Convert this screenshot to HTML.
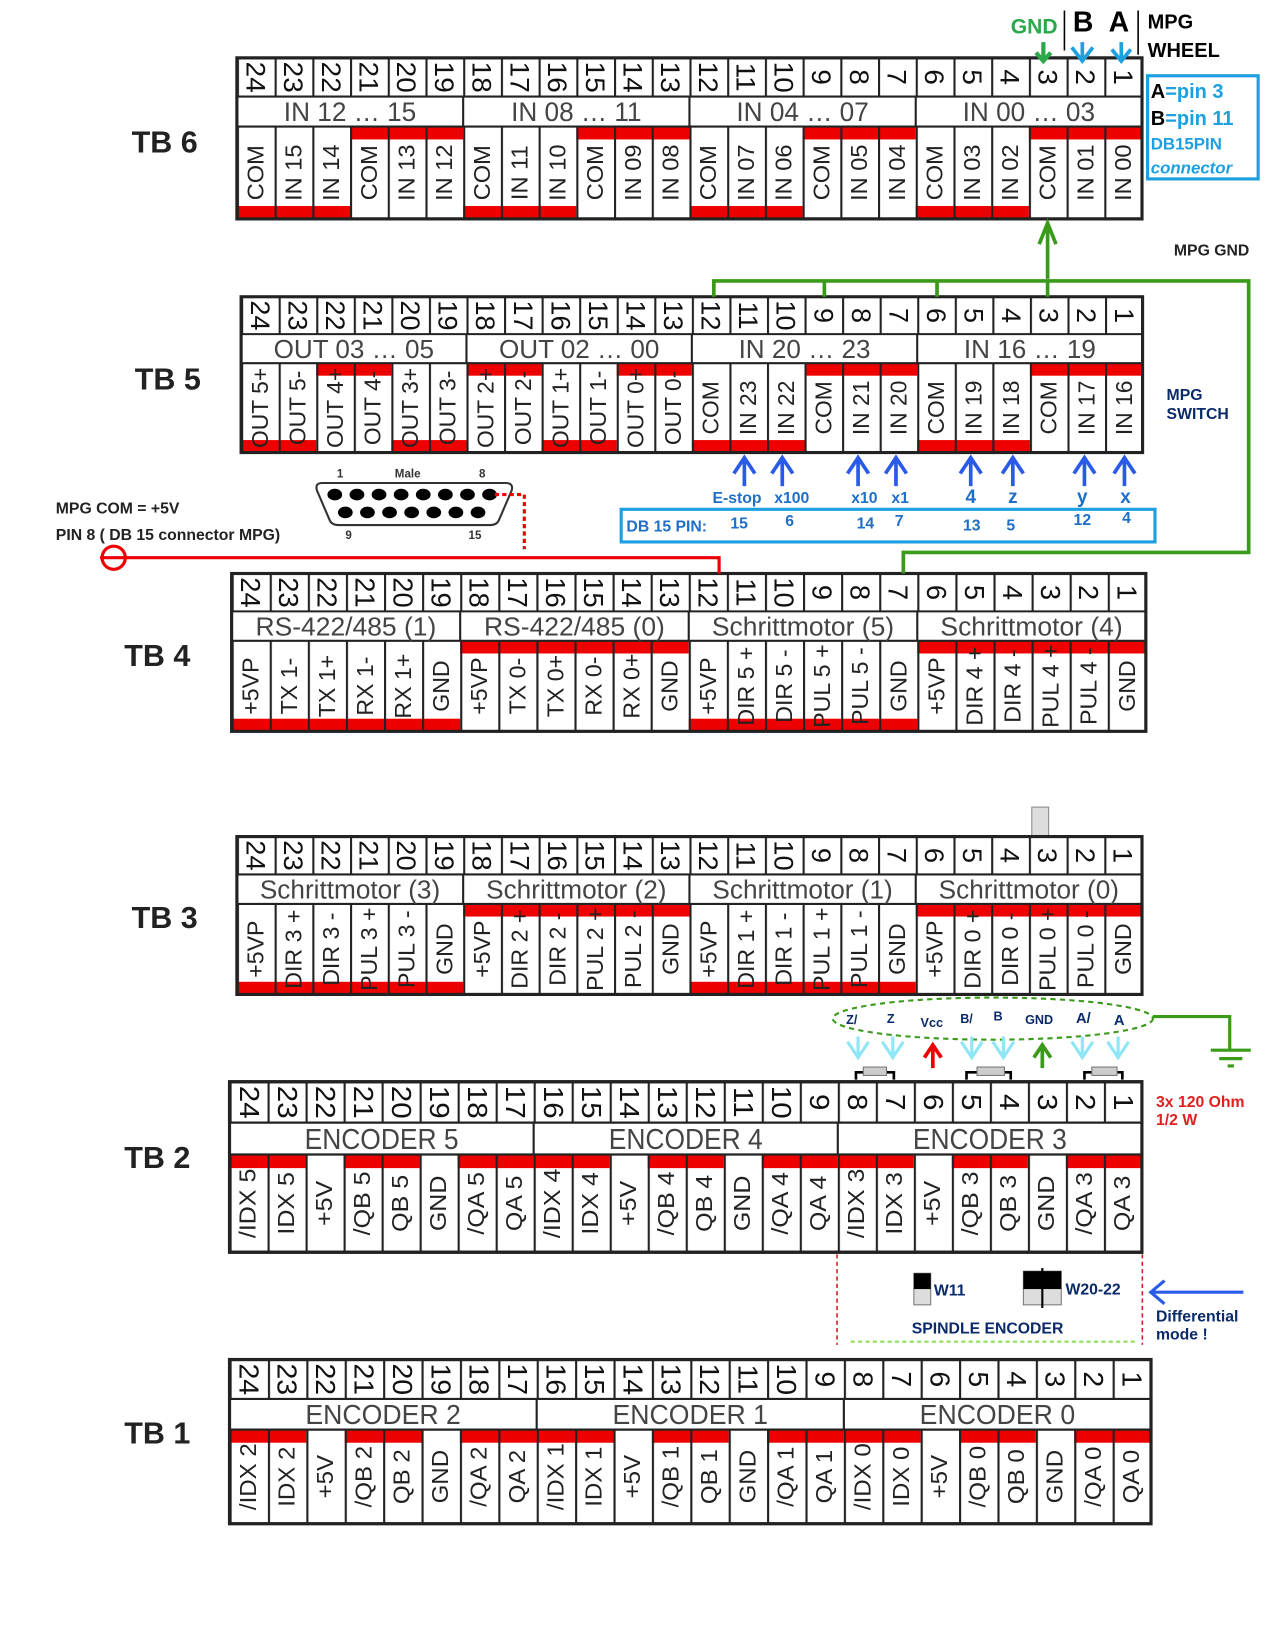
<!DOCTYPE html>
<html><head><meta charset="utf-8"><style>
html,body{margin:0;padding:0;background:#fff}
svg{display:block}
.n{font:26px "Liberation Sans",sans-serif;text-anchor:middle;dominant-baseline:central;fill:#111}
.l{font:22px "Liberation Sans",sans-serif;text-anchor:middle;dominant-baseline:central;fill:#222}
.h{font:25px "Liberation Sans",sans-serif;text-anchor:middle;fill:#444}
.tb{font:bold 29px "Liberation Sans",sans-serif;fill:#222}
.b{font-family:"Liberation Sans",sans-serif;font-weight:bold}
</style></head><body>
<svg width="1275" height="1650" viewBox="0 0 1211 1568" preserveAspectRatio="none" xmlns="http://www.w3.org/2000/svg">
<defs><pattern id="pc" width="36" height="10" patternUnits="userSpaceOnUse"><rect width="2" height="10" fill="#222"/></pattern></defs>
<rect width="1211" height="1568" fill="#fff"/>

<!-- TB6 -->
<text class="tb" x="125" y="145">TB 6</text>
<g transform="translate(225,55) scale(0.995,1.02)">
<rect width="864" height="150" fill="#fff"/>
<g fill="#e00"><rect x="0" y="138" width="108" height="12"/><rect x="216" y="138" width="108" height="12"/><rect x="432" y="138" width="108" height="12"/><rect x="648" y="138" width="108" height="12"/><rect x="108" y="64" width="108" height="12"/><rect x="324" y="64" width="108" height="12"/><rect x="540" y="64" width="108" height="12"/><rect x="756" y="64" width="108" height="12"/></g>
<rect width="864" height="36" fill="url(#pc)"/><rect y="64" width="864" height="86" fill="url(#pc)"/>
<path d="M0 36H864M0 64H864M216 36V64M432 36V64M648 36V64" stroke="#222" stroke-width="2"/>
<rect width="864" height="150" fill="none" stroke="#222" stroke-width="3"/>
<g class="n"><text transform="translate(18,18)rotate(90)">24</text><text transform="translate(54,18)rotate(90)">23</text><text transform="translate(90,18)rotate(90)">22</text><text transform="translate(126,18)rotate(90)">21</text><text transform="translate(162,18)rotate(90)">20</text><text transform="translate(198,18)rotate(90)">19</text><text transform="translate(234,18)rotate(90)">18</text><text transform="translate(270,18)rotate(90)">17</text><text transform="translate(306,18)rotate(90)">16</text><text transform="translate(342,18)rotate(90)">15</text><text transform="translate(378,18)rotate(90)">14</text><text transform="translate(414,18)rotate(90)">13</text><text transform="translate(450,18)rotate(90)">12</text><text transform="translate(486,18)rotate(90)">11</text><text transform="translate(522,18)rotate(90)">10</text><text transform="translate(558,18)rotate(90)">9</text><text transform="translate(594,18)rotate(90)">8</text><text transform="translate(630,18)rotate(90)">7</text><text transform="translate(666,18)rotate(90)">6</text><text transform="translate(702,18)rotate(90)">5</text><text transform="translate(738,18)rotate(90)">4</text><text transform="translate(774,18)rotate(90)">3</text><text transform="translate(810,18)rotate(90)">2</text><text transform="translate(846,18)rotate(90)">1</text></g>
<g class="h"><text x="108" y="59">IN   12 … 15</text><text x="324" y="59">IN   08 … 11</text><text x="540" y="59">IN   04 … 07</text><text x="756" y="59">IN   00 … 03</text></g>
<g class="l"><text transform="translate(18,107)rotate(-90)">COM</text><text transform="translate(54,107)rotate(-90)">IN 15</text><text transform="translate(90,107)rotate(-90)">IN 14</text><text transform="translate(126,107)rotate(-90)">COM</text><text transform="translate(162,107)rotate(-90)">IN 13</text><text transform="translate(198,107)rotate(-90)">IN 12</text><text transform="translate(234,107)rotate(-90)">COM</text><text transform="translate(270,107)rotate(-90)">IN 11</text><text transform="translate(306,107)rotate(-90)">IN 10</text><text transform="translate(342,107)rotate(-90)">COM</text><text transform="translate(378,107)rotate(-90)">IN 09</text><text transform="translate(414,107)rotate(-90)">IN 08</text><text transform="translate(450,107)rotate(-90)">COM</text><text transform="translate(486,107)rotate(-90)">IN 07</text><text transform="translate(522,107)rotate(-90)">IN 06</text><text transform="translate(558,107)rotate(-90)">COM</text><text transform="translate(594,107)rotate(-90)">IN 05</text><text transform="translate(630,107)rotate(-90)">IN 04</text><text transform="translate(666,107)rotate(-90)">COM</text><text transform="translate(702,107)rotate(-90)">IN 03</text><text transform="translate(738,107)rotate(-90)">IN 02</text><text transform="translate(774,107)rotate(-90)">COM</text><text transform="translate(810,107)rotate(-90)">IN 01</text><text transform="translate(846,107)rotate(-90)">IN 00</text></g>
</g>

<!-- TB5 -->
<text class="tb" x="128" y="370">TB 5</text>
<g transform="translate(229,282) scale(0.991,0.987)">
<rect width="864" height="150" fill="#fff"/>
<g fill="#e00"><rect x="0" y="138" width="72" height="12"/><rect x="144" y="138" width="72" height="12"/><rect x="288" y="138" width="72" height="12"/><rect x="432" y="138" width="108" height="12"/><rect x="648" y="138" width="108" height="12"/><rect x="72" y="64" width="72" height="12"/><rect x="216" y="64" width="72" height="12"/><rect x="360" y="64" width="72" height="12"/><rect x="540" y="64" width="108" height="12"/><rect x="756" y="64" width="108" height="12"/></g>
<rect width="864" height="36" fill="url(#pc)"/><rect y="64" width="864" height="86" fill="url(#pc)"/>
<path d="M0 36H864M0 64H864M216 36V64M432 36V64M648 36V64" stroke="#222" stroke-width="2"/>
<rect width="864" height="150" fill="none" stroke="#222" stroke-width="3"/>
<g class="n"><text transform="translate(18,18)rotate(90)">24</text><text transform="translate(54,18)rotate(90)">23</text><text transform="translate(90,18)rotate(90)">22</text><text transform="translate(126,18)rotate(90)">21</text><text transform="translate(162,18)rotate(90)">20</text><text transform="translate(198,18)rotate(90)">19</text><text transform="translate(234,18)rotate(90)">18</text><text transform="translate(270,18)rotate(90)">17</text><text transform="translate(306,18)rotate(90)">16</text><text transform="translate(342,18)rotate(90)">15</text><text transform="translate(378,18)rotate(90)">14</text><text transform="translate(414,18)rotate(90)">13</text><text transform="translate(450,18)rotate(90)">12</text><text transform="translate(486,18)rotate(90)">11</text><text transform="translate(522,18)rotate(90)">10</text><text transform="translate(558,18)rotate(90)">9</text><text transform="translate(594,18)rotate(90)">8</text><text transform="translate(630,18)rotate(90)">7</text><text transform="translate(666,18)rotate(90)">6</text><text transform="translate(702,18)rotate(90)">5</text><text transform="translate(738,18)rotate(90)">4</text><text transform="translate(774,18)rotate(90)">3</text><text transform="translate(810,18)rotate(90)">2</text><text transform="translate(846,18)rotate(90)">1</text></g>
<g class="h"><text x="108" y="59">OUT  03 … 05</text><text x="324" y="59">OUT  02 … 00</text><text x="540" y="59">IN   20 … 23</text><text x="756" y="59">IN   16 … 19</text></g>
<g class="l"><text transform="translate(18,107)rotate(-90)">OUT 5+</text><text transform="translate(54,107)rotate(-90)">OUT 5-</text><text transform="translate(90,107)rotate(-90)">OUT 4+</text><text transform="translate(126,107)rotate(-90)">OUT 4-</text><text transform="translate(162,107)rotate(-90)">OUT 3+</text><text transform="translate(198,107)rotate(-90)">OUT 3-</text><text transform="translate(234,107)rotate(-90)">OUT 2+</text><text transform="translate(270,107)rotate(-90)">OUT 2-</text><text transform="translate(306,107)rotate(-90)">OUT 1+</text><text transform="translate(342,107)rotate(-90)">OUT 1-</text><text transform="translate(378,107)rotate(-90)">OUT 0+</text><text transform="translate(414,107)rotate(-90)">OUT 0-</text><text transform="translate(450,107)rotate(-90)">COM</text><text transform="translate(486,107)rotate(-90)">IN 23</text><text transform="translate(522,107)rotate(-90)">IN 22</text><text transform="translate(558,107)rotate(-90)">COM</text><text transform="translate(594,107)rotate(-90)">IN 21</text><text transform="translate(630,107)rotate(-90)">IN 20</text><text transform="translate(666,107)rotate(-90)">COM</text><text transform="translate(702,107)rotate(-90)">IN 19</text><text transform="translate(738,107)rotate(-90)">IN 18</text><text transform="translate(774,107)rotate(-90)">COM</text><text transform="translate(810,107)rotate(-90)">IN 17</text><text transform="translate(846,107)rotate(-90)">IN 16</text></g>
</g>

<!-- TB4 -->
<text class="tb" x="118" y="633">TB 4</text>
<g transform="translate(220,545) scale(1.005,1)">
<rect width="864" height="150" fill="#fff"/>
<g fill="#e00"><rect x="0" y="138" width="216" height="12"/><rect x="216" y="64" width="216" height="12"/><rect x="432" y="138" width="216" height="12"/><rect x="648" y="64" width="216" height="12"/></g>
<rect width="864" height="36" fill="url(#pc)"/><rect y="64" width="864" height="86" fill="url(#pc)"/>
<path d="M0 36H864M0 64H864M216 36V64M432 36V64M648 36V64" stroke="#222" stroke-width="2"/>
<rect width="864" height="150" fill="none" stroke="#222" stroke-width="3"/>
<g class="n"><text transform="translate(18,18)rotate(90)">24</text><text transform="translate(54,18)rotate(90)">23</text><text transform="translate(90,18)rotate(90)">22</text><text transform="translate(126,18)rotate(90)">21</text><text transform="translate(162,18)rotate(90)">20</text><text transform="translate(198,18)rotate(90)">19</text><text transform="translate(234,18)rotate(90)">18</text><text transform="translate(270,18)rotate(90)">17</text><text transform="translate(306,18)rotate(90)">16</text><text transform="translate(342,18)rotate(90)">15</text><text transform="translate(378,18)rotate(90)">14</text><text transform="translate(414,18)rotate(90)">13</text><text transform="translate(450,18)rotate(90)">12</text><text transform="translate(486,18)rotate(90)">11</text><text transform="translate(522,18)rotate(90)">10</text><text transform="translate(558,18)rotate(90)">9</text><text transform="translate(594,18)rotate(90)">8</text><text transform="translate(630,18)rotate(90)">7</text><text transform="translate(666,18)rotate(90)">6</text><text transform="translate(702,18)rotate(90)">5</text><text transform="translate(738,18)rotate(90)">4</text><text transform="translate(774,18)rotate(90)">3</text><text transform="translate(810,18)rotate(90)">2</text><text transform="translate(846,18)rotate(90)">1</text></g>
<g class="h"><text x="108" y="59">RS-422/485  (1)</text><text x="324" y="59">RS-422/485  (0)</text><text x="540" y="59">Schrittmotor  (5)</text><text x="756" y="59">Schrittmotor  (4)</text></g>
<g class="l"><text transform="translate(18,107)rotate(-90)">+5VP</text><text transform="translate(54,107)rotate(-90)">TX 1-</text><text transform="translate(90,107)rotate(-90)">TX 1+</text><text transform="translate(126,107)rotate(-90)">RX 1-</text><text transform="translate(162,107)rotate(-90)">RX 1+</text><text transform="translate(198,107)rotate(-90)">GND</text><text transform="translate(234,107)rotate(-90)">+5VP</text><text transform="translate(270,107)rotate(-90)">TX 0-</text><text transform="translate(306,107)rotate(-90)">TX 0+</text><text transform="translate(342,107)rotate(-90)">RX 0-</text><text transform="translate(378,107)rotate(-90)">RX 0+</text><text transform="translate(414,107)rotate(-90)">GND</text><text transform="translate(450,107)rotate(-90)">+5VP</text><text transform="translate(486,107)rotate(-90)">DIR 5 +</text><text transform="translate(522,107)rotate(-90)">DIR 5 -</text><text transform="translate(558,107)rotate(-90)">PUL 5 +</text><text transform="translate(594,107)rotate(-90)">PUL 5 -</text><text transform="translate(630,107)rotate(-90)">GND</text><text transform="translate(666,107)rotate(-90)">+5VP</text><text transform="translate(702,107)rotate(-90)">DIR 4 +</text><text transform="translate(738,107)rotate(-90)">DIR 4 -</text><text transform="translate(774,107)rotate(-90)">PUL 4 +</text><text transform="translate(810,107)rotate(-90)">PUL 4 -</text><text transform="translate(846,107)rotate(-90)">GND</text></g>
</g>

<!-- TB3 -->
<rect x="980" y="767" width="16" height="33" fill="#ddd" stroke="#888"/>
<text class="tb" x="125" y="882">TB 3</text>
<g transform="translate(225,795) scale(0.995,1)">
<rect width="864" height="150" fill="#fff"/>
<g fill="#e00"><rect x="0" y="138" width="216" height="12"/><rect x="216" y="64" width="216" height="12"/><rect x="432" y="138" width="216" height="12"/><rect x="648" y="64" width="216" height="12"/></g>
<rect width="864" height="36" fill="url(#pc)"/><rect y="64" width="864" height="86" fill="url(#pc)"/>
<path d="M0 36H864M0 64H864M216 36V64M432 36V64M648 36V64" stroke="#222" stroke-width="2"/>
<rect width="864" height="150" fill="none" stroke="#222" stroke-width="3"/>
<g class="n"><text transform="translate(18,18)rotate(90)">24</text><text transform="translate(54,18)rotate(90)">23</text><text transform="translate(90,18)rotate(90)">22</text><text transform="translate(126,18)rotate(90)">21</text><text transform="translate(162,18)rotate(90)">20</text><text transform="translate(198,18)rotate(90)">19</text><text transform="translate(234,18)rotate(90)">18</text><text transform="translate(270,18)rotate(90)">17</text><text transform="translate(306,18)rotate(90)">16</text><text transform="translate(342,18)rotate(90)">15</text><text transform="translate(378,18)rotate(90)">14</text><text transform="translate(414,18)rotate(90)">13</text><text transform="translate(450,18)rotate(90)">12</text><text transform="translate(486,18)rotate(90)">11</text><text transform="translate(522,18)rotate(90)">10</text><text transform="translate(558,18)rotate(90)">9</text><text transform="translate(594,18)rotate(90)">8</text><text transform="translate(630,18)rotate(90)">7</text><text transform="translate(666,18)rotate(90)">6</text><text transform="translate(702,18)rotate(90)">5</text><text transform="translate(738,18)rotate(90)">4</text><text transform="translate(774,18)rotate(90)">3</text><text transform="translate(810,18)rotate(90)">2</text><text transform="translate(846,18)rotate(90)">1</text></g>
<g class="h"><text x="108" y="59">Schrittmotor  (3)</text><text x="324" y="59">Schrittmotor  (2)</text><text x="540" y="59">Schrittmotor  (1)</text><text x="756" y="59">Schrittmotor  (0)</text></g>
<g class="l"><text transform="translate(18,107)rotate(-90)">+5VP</text><text transform="translate(54,107)rotate(-90)">DIR 3 +</text><text transform="translate(90,107)rotate(-90)">DIR 3 -</text><text transform="translate(126,107)rotate(-90)">PUL 3 +</text><text transform="translate(162,107)rotate(-90)">PUL 3 -</text><text transform="translate(198,107)rotate(-90)">GND</text><text transform="translate(234,107)rotate(-90)">+5VP</text><text transform="translate(270,107)rotate(-90)">DIR 2 +</text><text transform="translate(306,107)rotate(-90)">DIR 2 -</text><text transform="translate(342,107)rotate(-90)">PUL 2 +</text><text transform="translate(378,107)rotate(-90)">PUL 2 -</text><text transform="translate(414,107)rotate(-90)">GND</text><text transform="translate(450,107)rotate(-90)">+5VP</text><text transform="translate(486,107)rotate(-90)">DIR 1 +</text><text transform="translate(522,107)rotate(-90)">DIR 1 -</text><text transform="translate(558,107)rotate(-90)">PUL 1 +</text><text transform="translate(594,107)rotate(-90)">PUL 1 -</text><text transform="translate(630,107)rotate(-90)">GND</text><text transform="translate(666,107)rotate(-90)">+5VP</text><text transform="translate(702,107)rotate(-90)">DIR 0 +</text><text transform="translate(738,107)rotate(-90)">DIR 0 -</text><text transform="translate(774,107)rotate(-90)">PUL 0 +</text><text transform="translate(810,107)rotate(-90)">PUL 0 -</text><text transform="translate(846,107)rotate(-90)">GND</text></g>
</g>

<!-- TB2 -->
<text class="tb" x="118" y="1110">TB 2</text>
<g transform="translate(218,1028) scale(1.003,1.08)">
<rect width="864" height="150" fill="#fff"/>
<g fill="#e00"><rect x="0" y="64" width="72" height="12"/><rect x="108" y="64" width="72" height="12"/><rect x="216" y="64" width="72" height="12"/><rect x="288" y="64" width="72" height="12"/><rect x="396" y="64" width="72" height="12"/><rect x="504" y="64" width="72" height="12"/><rect x="576" y="64" width="72" height="12"/><rect x="684" y="64" width="72" height="12"/><rect x="792" y="64" width="72" height="12"/></g>
<rect width="864" height="36" fill="url(#pc)"/><rect y="64" width="864" height="86" fill="url(#pc)"/>
<path d="M0 36H864M0 64H864M288 36V64M576 36V64" stroke="#222" stroke-width="2"/>
<rect width="864" height="150" fill="none" stroke="#222" stroke-width="3"/>
<g class="n"><text transform="translate(18,18)rotate(90)">24</text><text transform="translate(54,18)rotate(90)">23</text><text transform="translate(90,18)rotate(90)">22</text><text transform="translate(126,18)rotate(90)">21</text><text transform="translate(162,18)rotate(90)">20</text><text transform="translate(198,18)rotate(90)">19</text><text transform="translate(234,18)rotate(90)">18</text><text transform="translate(270,18)rotate(90)">17</text><text transform="translate(306,18)rotate(90)">16</text><text transform="translate(342,18)rotate(90)">15</text><text transform="translate(378,18)rotate(90)">14</text><text transform="translate(414,18)rotate(90)">13</text><text transform="translate(450,18)rotate(90)">12</text><text transform="translate(486,18)rotate(90)">11</text><text transform="translate(522,18)rotate(90)">10</text><text transform="translate(558,18)rotate(90)">9</text><text transform="translate(594,18)rotate(90)">8</text><text transform="translate(630,18)rotate(90)">7</text><text transform="translate(666,18)rotate(90)">6</text><text transform="translate(702,18)rotate(90)">5</text><text transform="translate(738,18)rotate(90)">4</text><text transform="translate(774,18)rotate(90)">3</text><text transform="translate(810,18)rotate(90)">2</text><text transform="translate(846,18)rotate(90)">1</text></g>
<g class="h"><text x="144" y="59">ENCODER      5</text><text x="432" y="59">ENCODER      4</text><text x="720" y="59">ENCODER      3</text></g>
<g class="l"><text transform="translate(18,107)rotate(-90)">/IDX 5</text><text transform="translate(54,107)rotate(-90)">IDX 5</text><text transform="translate(90,107)rotate(-90)">+5V</text><text transform="translate(126,107)rotate(-90)">/QB 5</text><text transform="translate(162,107)rotate(-90)">QB 5</text><text transform="translate(198,107)rotate(-90)">GND</text><text transform="translate(234,107)rotate(-90)">/QA 5</text><text transform="translate(270,107)rotate(-90)">QA 5</text><text transform="translate(306,107)rotate(-90)">/IDX 4</text><text transform="translate(342,107)rotate(-90)">IDX 4</text><text transform="translate(378,107)rotate(-90)">+5V</text><text transform="translate(414,107)rotate(-90)">/QB 4</text><text transform="translate(450,107)rotate(-90)">QB 4</text><text transform="translate(486,107)rotate(-90)">GND</text><text transform="translate(522,107)rotate(-90)">/QA 4</text><text transform="translate(558,107)rotate(-90)">QA 4</text><text transform="translate(594,107)rotate(-90)">/IDX 3</text><text transform="translate(630,107)rotate(-90)">IDX 3</text><text transform="translate(666,107)rotate(-90)">+5V</text><text transform="translate(702,107)rotate(-90)">/QB 3</text><text transform="translate(738,107)rotate(-90)">QB 3</text><text transform="translate(774,107)rotate(-90)">GND</text><text transform="translate(810,107)rotate(-90)">/QA 3</text><text transform="translate(846,107)rotate(-90)">QA 3</text></g>
</g>

<!-- TB1 -->
<text class="tb" x="118" y="1372">TB 1</text>
<g transform="translate(218,1292) scale(1.013,1.04)">
<rect width="864" height="150" fill="#fff"/>
<g fill="#e00"><rect x="0" y="64" width="72" height="12"/><rect x="108" y="64" width="72" height="12"/><rect x="216" y="64" width="72" height="12"/><rect x="288" y="64" width="72" height="12"/><rect x="396" y="64" width="72" height="12"/><rect x="504" y="64" width="72" height="12"/><rect x="576" y="64" width="72" height="12"/><rect x="684" y="64" width="72" height="12"/><rect x="792" y="64" width="72" height="12"/></g>
<rect width="864" height="36" fill="url(#pc)"/><rect y="64" width="864" height="86" fill="url(#pc)"/>
<path d="M0 36H864M0 64H864M288 36V64M576 36V64" stroke="#222" stroke-width="2"/>
<rect width="864" height="150" fill="none" stroke="#222" stroke-width="3"/>
<g class="n"><text transform="translate(18,18)rotate(90)">24</text><text transform="translate(54,18)rotate(90)">23</text><text transform="translate(90,18)rotate(90)">22</text><text transform="translate(126,18)rotate(90)">21</text><text transform="translate(162,18)rotate(90)">20</text><text transform="translate(198,18)rotate(90)">19</text><text transform="translate(234,18)rotate(90)">18</text><text transform="translate(270,18)rotate(90)">17</text><text transform="translate(306,18)rotate(90)">16</text><text transform="translate(342,18)rotate(90)">15</text><text transform="translate(378,18)rotate(90)">14</text><text transform="translate(414,18)rotate(90)">13</text><text transform="translate(450,18)rotate(90)">12</text><text transform="translate(486,18)rotate(90)">11</text><text transform="translate(522,18)rotate(90)">10</text><text transform="translate(558,18)rotate(90)">9</text><text transform="translate(594,18)rotate(90)">8</text><text transform="translate(630,18)rotate(90)">7</text><text transform="translate(666,18)rotate(90)">6</text><text transform="translate(702,18)rotate(90)">5</text><text transform="translate(738,18)rotate(90)">4</text><text transform="translate(774,18)rotate(90)">3</text><text transform="translate(810,18)rotate(90)">2</text><text transform="translate(846,18)rotate(90)">1</text></g>
<g class="h"><text x="144" y="59">ENCODER      2</text><text x="432" y="59">ENCODER      1</text><text x="720" y="59">ENCODER      0</text></g>
<g class="l"><text transform="translate(18,107)rotate(-90)">/IDX 2</text><text transform="translate(54,107)rotate(-90)">IDX 2</text><text transform="translate(90,107)rotate(-90)">+5V</text><text transform="translate(126,107)rotate(-90)">/QB 2</text><text transform="translate(162,107)rotate(-90)">QB 2</text><text transform="translate(198,107)rotate(-90)">GND</text><text transform="translate(234,107)rotate(-90)">/QA 2</text><text transform="translate(270,107)rotate(-90)">QA 2</text><text transform="translate(306,107)rotate(-90)">/IDX 1</text><text transform="translate(342,107)rotate(-90)">IDX 1</text><text transform="translate(378,107)rotate(-90)">+5V</text><text transform="translate(414,107)rotate(-90)">/QB 1</text><text transform="translate(450,107)rotate(-90)">QB 1</text><text transform="translate(486,107)rotate(-90)">GND</text><text transform="translate(522,107)rotate(-90)">/QA 1</text><text transform="translate(558,107)rotate(-90)">QA 1</text><text transform="translate(594,107)rotate(-90)">/IDX 0</text><text transform="translate(630,107)rotate(-90)">IDX 0</text><text transform="translate(666,107)rotate(-90)">+5V</text><text transform="translate(702,107)rotate(-90)">/QB 0</text><text transform="translate(738,107)rotate(-90)">QB 0</text><text transform="translate(774,107)rotate(-90)">GND</text><text transform="translate(810,107)rotate(-90)">/QA 0</text><text transform="translate(846,107)rotate(-90)">QA 0</text></g>
</g>

<!-- top annotations -->
<text class="b" x="960" y="32" font-size="20" fill="#2aa84a">GND</text>
<text class="b" x="1019" y="30" font-size="27" fill="#000">B</text>
<text class="b" x="1053" y="30" font-size="27" fill="#000">A</text>
<path d="M1011 10V48M1081 10V52" stroke="#000" stroke-width="1.5"/>
<text class="b" x="1090" y="27" font-size="19" fill="#000">MPG</text>
<text class="b" x="1090" y="54" font-size="19" fill="#000">WHEEL</text>
<g stroke="#2aa84a" stroke-width="4" fill="none"><path d="M991 40V58M984 50L991 58L998 50"/></g>
<g stroke="#1ea0e0" stroke-width="3.5" fill="none"><path d="M1028 40V58M1018 45L1028 58L1038 45"/><path d="M1065 40V58M1056 47L1065 58L1074 47"/></g>
<rect x="1090" y="72" width="105" height="98" fill="none" stroke="#1ea0e0" stroke-width="3"/>
<text class="b" x="1093" y="93" font-size="19"><tspan fill="#000">A</tspan><tspan fill="#1ea0e0">=pin 3</tspan></text>
<text class="b" x="1093" y="119" font-size="19"><tspan fill="#000">B</tspan><tspan fill="#1ea0e0">=pin 11</tspan></text>
<text class="b" x="1093" y="142" font-size="16" fill="#1ea0e0">DB15PIN</text>
<text class="b" x="1093" y="165" font-size="16" fill="#1ea0e0" font-style="italic">connector</text>

<!-- green wiring -->
<g stroke="#3a9a1a" stroke-width="3.5" fill="none">
<path d="M995 265V212M987 232L995 212L1003 232"/>
<path d="M678 282V267H1186V525H858V545"/>
<path d="M783 267V282M890 267V282M995 267V282"/>
</g>
<text class="b" x="1115" y="243" font-size="15" fill="#222">MPG GND</text>
<text class="b" x="1108" y="380" font-size="15" fill="#0a2a6a">MPG</text>
<text class="b" x="1108" y="398" font-size="15" fill="#0a2a6a">SWITCH</text>

<!-- blue arrows under TB5 -->
<g stroke="#2a5ae8" stroke-width="3.5" fill="none">
<path d="M707 462V435M697 450L707 435L717 450"/><path d="M743 462V435M733 450L743 435L753 450"/>
<path d="M815 462V435M805 450L815 435L825 450"/><path d="M851 462V435M841 450L851 435L861 450"/>
<path d="M922 462V435M912 450L922 435L932 450"/><path d="M962 462V435M952 450L962 435L972 450"/>
<path d="M1030 462V435M1020 450L1030 435L1040 450"/><path d="M1068 462V435M1058 450L1068 435L1078 450"/>
</g>
<g class="b" fill="#1f6fc8" font-size="15" text-anchor="middle">
<text x="700" y="478">E-stop</text><text x="752" y="478">x100</text><text x="821" y="478">x10</text><text x="855" y="478">x1</text>
<text x="922" y="478" font-size="18">4</text><text x="962" y="478" font-size="18">z</text><text x="1028" y="478" font-size="18">y</text><text x="1069" y="478" font-size="18">x</text>
</g>
<rect x="590" y="484" width="507" height="31" fill="none" stroke="#1ea0e0" stroke-width="3"/>
<g class="b" fill="#1f6fc8" font-size="15">
<text x="595" y="505">DB 15 PIN:</text>
<text x="702" y="502" text-anchor="middle">15</text><text x="750" y="500" text-anchor="middle">6</text><text x="822" y="502" text-anchor="middle">14</text><text x="854" y="500" text-anchor="middle">7</text>
<text x="923" y="504" text-anchor="middle">13</text><text x="960" y="504" text-anchor="middle">5</text><text x="1028" y="499" text-anchor="middle">12</text><text x="1070" y="497" text-anchor="middle">4</text>
</g>

<!-- DB15 connector -->
<text x="320" y="454" font-size="11" class="b" fill="#333">1</text>
<text x="375" y="454" font-size="11" class="b" fill="#333">Male</text>
<text x="455" y="454" font-size="11" class="b" fill="#333">8</text>
<path d="M306 459H480Q488 459 486 466L474 494Q472 499 465 499H322Q315 499 313 494L301 466Q299 459 306 459Z" fill="#fff" stroke="#333" stroke-width="2"/>
<g fill="#000"><ellipse cx="318" cy="470" rx="7" ry="5.5"/><ellipse cx="339" cy="470" rx="7" ry="5.5"/><ellipse cx="360" cy="470" rx="7" ry="5.5"/><ellipse cx="381" cy="470" rx="7" ry="5.5"/><ellipse cx="402" cy="470" rx="7" ry="5.5"/><ellipse cx="423" cy="470" rx="7" ry="5.5"/><ellipse cx="444" cy="470" rx="7" ry="5.5"/><ellipse cx="465" cy="470" rx="7" ry="5.5"/>
<ellipse cx="328" cy="487" rx="7" ry="5.5"/><ellipse cx="349" cy="487" rx="7" ry="5.5"/><ellipse cx="370" cy="487" rx="7" ry="5.5"/><ellipse cx="391" cy="487" rx="7" ry="5.5"/><ellipse cx="412" cy="487" rx="7" ry="5.5"/><ellipse cx="433" cy="487" rx="7" ry="5.5"/><ellipse cx="454" cy="487" rx="7" ry="5.5"/></g>
<text x="328" y="512" font-size="11" class="b" fill="#333">9</text>
<text x="445" y="512" font-size="11" class="b" fill="#333">15</text>
<path d="M470 470H498V522" stroke="#e00" stroke-width="3" stroke-dasharray="4 3" fill="none"/>
<text class="b" x="53" y="488" font-size="15" fill="#222">MPG COM = +5V</text>
<text class="b" x="53" y="513" font-size="15" fill="#222">PIN  8 ( DB 15 connector MPG)</text>
<path d="M95 530H683V545" stroke="#e00" stroke-width="3" fill="none"/>
<circle cx="108" cy="530" r="11" fill="none" stroke="#e00" stroke-width="3"/>

<!-- encoder signals -->
<ellipse cx="943" cy="968" rx="152" ry="20" fill="none" stroke="#3a9a1a" stroke-width="2" stroke-dasharray="5 4"/>
<g class="b" fill="#0a2a6a" font-size="12" text-anchor="middle">
<text x="809" y="973">Z/</text><text x="846" y="972">Z</text><text x="885" y="976">Vcc</text><text x="918" y="972">B/</text><text x="948" y="970">B</text><text x="987" y="973">GND</text><text x="1029" y="972" font-size="14">A/</text><text x="1063" y="974" font-size="14">A</text>
</g>
<g stroke="#8fe6f6" stroke-width="3" fill="none">
<path d="M815 985V1005M805 990L815 1005L825 990"/><path d="M848 985V1005M838 990L848 1005L858 990"/>
<path d="M923 985V1005M913 990L923 1005L933 990"/><path d="M953 985V1005M943 990L953 1005L963 990"/>
<path d="M1028 985V1005M1018 990L1028 1005L1038 990"/><path d="M1062 985V1005M1052 990L1062 1005L1072 990"/>
</g>
<path d="M886 1015V993M878 1005L886 993L894 1005" stroke="#e00" stroke-width="3.5" fill="none"/>
<path d="M990 1015V993M982 1005L990 993L998 1005" stroke="#3a9a1a" stroke-width="3.5" fill="none"/>
<g stroke="#000" stroke-width="2.5" fill="none"><path d="M813 1026V1019H849V1026"/><path d="M918 1026V1019H960V1026"/><path d="M1030 1026V1019H1066V1026"/></g>
<g fill="#ccc" stroke="#777"><rect x="820" y="1014" width="22" height="8"/><rect x="928" y="1014" width="26" height="8"/><rect x="1037" y="1014" width="24" height="8"/></g>
<path d="M1095 966H1168V998" stroke="#3a9a1a" stroke-width="3" fill="none"/>
<path d="M1150 998H1188M1158 1006H1180M1166 1013H1172" stroke="#3a9a1a" stroke-width="3"/>
<text class="b" x="1098" y="1052" font-size="15" fill="#e02020">3x 120 Ohm</text>
<text class="b" x="1098" y="1069" font-size="15" fill="#e02020">1/2 W</text>

<!-- spindle encoder -->
<path d="M795 1192V1278M1085 1192V1278" stroke="#d02020" stroke-width="1.5" stroke-dasharray="4 3"/>
<path d="M808 1275H1080" stroke="#8fe060" stroke-width="2" stroke-dasharray="4 3"/>
<rect x="868" y="1210" width="16" height="30" fill="#ddd" stroke="#777"/><rect x="868" y="1210" width="16" height="15" fill="#000"/>
<text class="b" x="887" y="1231" font-size="15" fill="#0a2a6a">W11</text>
<rect x="972" y="1208" width="36" height="32" fill="#ddd" stroke="#777"/><rect x="972" y="1208" width="36" height="17" fill="#000"/><path d="M990 1205V1243" stroke="#000" stroke-width="2"/>
<text class="b" x="1012" y="1230" font-size="15" fill="#0a2a6a">W20-22</text>
<text class="b" x="866" y="1267" font-size="15" fill="#0a2a6a">SPINDLE ENCODER</text>
<path d="M1181 1228H1093M1106 1217L1093 1228L1106 1239" stroke="#2a5ae8" stroke-width="3" fill="none"/>
<text class="b" x="1098" y="1256" font-size="15" fill="#0a2a6a">Differential</text>
<text class="b" x="1098" y="1273" font-size="15" fill="#0a2a6a">mode !</text>
</svg>
</body></html>
